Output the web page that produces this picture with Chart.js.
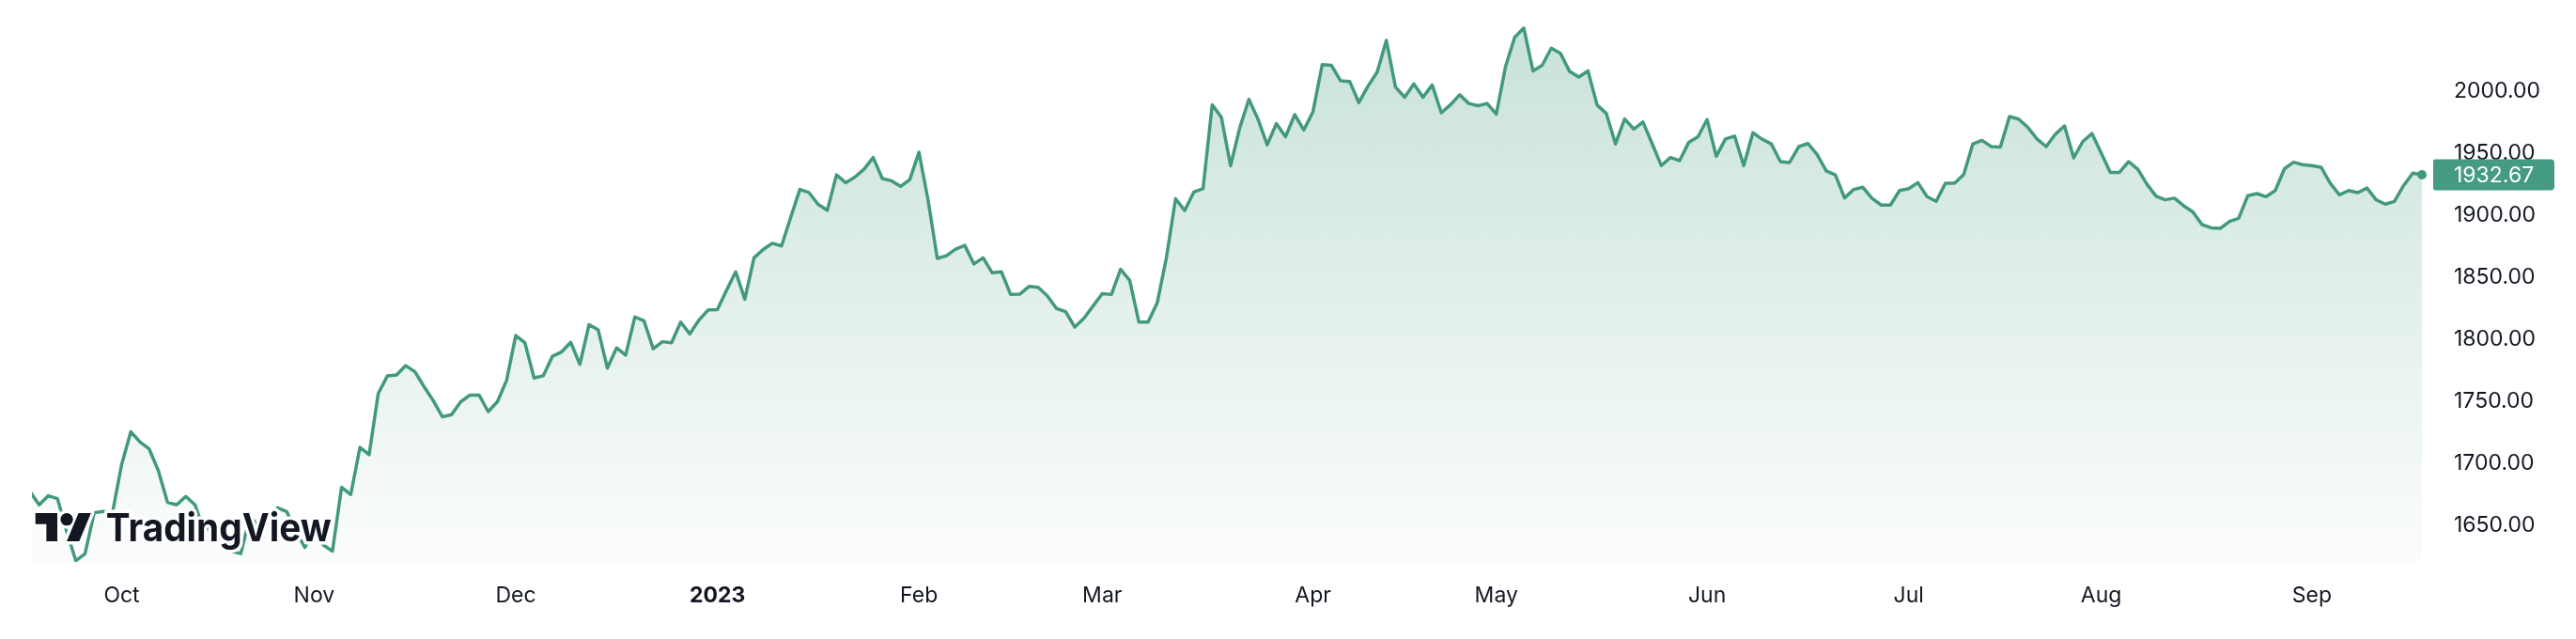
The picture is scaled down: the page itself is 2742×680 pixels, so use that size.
<!DOCTYPE html>
<html><head><meta charset="utf-8">
<script src="https://cdn.jsdelivr.net/npm/chart.js@4.4.0/dist/chart.umd.min.js"></script>
<style>html,body{margin:0;padding:0;background:#fff;overflow:hidden}canvas{display:block}</style>
</head><body>
<canvas id="c" width="2742" height="680"></canvas>
<script>
// first trading day of the series (XAU/USD daily closes, weekdays)
const startDate = '2022-09-19';
const prices = [
 1677, 1666.4, 1673.7, 1671.4, 1645, 1621.3, 1626.8, 1660, 1661, 1660,
 1699, 1725.3, 1717, 1711.5, 1694, 1668.4, 1666.4, 1673.2, 1666.4, 1645,
 1650, 1652, 1629, 1627, 1657, 1649, 1652, 1664, 1661, 1645,
 1632, 1647, 1634, 1629, 1680.5, 1674.7, 1712.8, 1706.8, 1756.2, 1770.5,
 1771.2, 1778.7, 1773.7, 1761.7, 1750.4, 1737.4, 1739.1, 1749.6, 1754.9, 1754.9,
 1741.6, 1749.6, 1766.7, 1803, 1797.2, 1768.7, 1770.5, 1786.2, 1789.7, 1797.5,
 1779.7, 1811.8, 1807.5, 1776.7, 1793, 1787.2, 1818, 1814.8, 1792.3, 1798,
 1797.2, 1813.8, 1804.3, 1815.5, 1823.6, 1823.8, 1839.4, 1854.4, 1832.3, 1865.7,
 1872.4, 1877.4, 1875.2, 1898.2, 1920.8, 1918.3, 1908.8, 1904, 1932.6, 1926.3,
 1930.8, 1937.1, 1946.6, 1929.6, 1927.8, 1923.3, 1928.8, 1950.9, 1912, 1865.2,
 1867.4, 1872.7, 1875.7, 1860.7, 1865.7, 1853.6, 1854.4, 1836.1, 1836.3, 1842.6,
 1841.9, 1835.1, 1824.8, 1822.3, 1809.8, 1816.8, 1826.8, 1836.8, 1836.1, 1856.4,
 1847.4, 1813.8, 1813.8, 1829.3, 1865.7, 1913.3, 1903.8, 1918.8, 1921.6, 1989.2,
 1979, 1940, 1970.5, 1993.5, 1977.5, 1956.8, 1974, 1963.4, 1981.2, 1968.8,
 1983.7, 2021.5, 2021, 2008.5, 2008, 1990.9, 2004.2, 2015.5, 2041.1, 2003.5,
 1995.2, 2006, 1995.2, 2005.2, 1982.7, 1989.2, 1997.2, 1990.2, 1988.4, 1990.2,
 1981.7, 2019.8, 2043.6, 2051.1, 2016.5, 2021, 2034.8, 2030.6, 2016, 2011.5,
 2016.5, 1988.9, 1982.2, 1957.6, 1977.7, 1969.6, 1975.2, 1957.9, 1940.1, 1946.6,
 1944.1, 1958.9, 1963.4, 1977.2, 1947.6, 1961.6, 1963.9, 1940.1, 1966.6, 1961.4,
 1957.6, 1943.3, 1942.6, 1955.4, 1957.9, 1949.1, 1935.8, 1932.6, 1914, 1920.8,
 1922.6, 1913.6, 1908.2, 1908.2, 1920, 1921.5, 1926.3, 1915, 1911.2, 1925.8,
 1925.8, 1932.8, 1957.6, 1960.4, 1955.4, 1955.1, 1979.7, 1977.6, 1970.9, 1961.6,
 1955.4, 1965.4, 1972.1, 1946.3, 1959.6, 1965.9, 1950.3, 1934.6, 1934.6, 1943.3,
 1937.1, 1925, 1915.3, 1912.5, 1913.8, 1907.7, 1902.7, 1892.5, 1889.9, 1889.4,
 1895, 1897.5, 1915.8, 1917.5, 1915, 1920, 1937.6, 1942.8, 1940.8, 1940.1,
 1938.8, 1925.8, 1916.5, 1920, 1918.3, 1922, 1912.5, 1909, 1911.2, 1924,
 1934, 1932.67
];
const yTicks = [1650, 1700, 1750, 1800, 1850, 1900, 1950, 2000];
const monthNames = ['Jan','Feb','Mar','Apr','May','Jun','Jul','Aug','Sep','Oct','Nov','Dec'];
const brandText = 'TradingView';

// trading-day calendar (weekdays) for the categories
const dates = [];
{
  const d = new Date(startDate + 'T00:00:00Z');
  while (dates.length < prices.length) {
    const wd = d.getUTCDay();
    if (wd !== 0 && wd !== 6) dates.push(new Date(d));
    d.setUTCDate(d.getUTCDate() + 1);
  }
}
const tickIdx = [], tickLabels = [];
for (let k = 1; k < dates.length; k++) {
  if (dates[k].getUTCMonth() !== dates[k - 1].getUTCMonth()) {
    const m = dates[k].getUTCMonth();
    tickIdx.push(k);
    tickLabels.push(m === 0 ? String(dates[k].getUTCFullYear()) : monthNames[m]);
  }
}

const lineColor = '#42997f';
const textColor = '#131722';
const FONT = 'Inter';

const overlay = {
  id: 'overlay',
  afterDraw(chart) {
    const c = chart.ctx;
    const area = chart.chartArea;
    const ys = chart.scales.y;
    const last = prices[prices.length - 1];
    const py = ys.getPixelForValue(last);
    // price label
    c.save();
    c.fillStyle = '#459a83';
    c.beginPath();
    c.roundRect(area.right + 2, py - 16.5, 129, 33, [2, 4, 4, 2]);
    c.fill();
    c.fillStyle = '#ffffff';
    c.font = '400 23px ' + FONT;
    c.textAlign = 'left';
    c.textBaseline = 'middle';
    c.fillText(last.toFixed(2), ys.left + 24, py + 1);
    c.restore();

    // TradingView logo
    c.save();
    const s = 30 / 18;
    const ox = area.left + 3.7, oy = area.bottom - 22 - 22 * s;
    const P = (x, y) => [ox + x * s, oy + y * s];
    const shapes = [];
    const t = new Path2D();
    [[0,4],[14,4],[14,22],[7,22],[7,11],[0,11]].forEach((p, i) => { const q = P(p[0], p[1]); i ? t.lineTo(q[0], q[1]) : t.moveTo(q[0], q[1]); });
    t.closePath(); shapes.push(t);
    const ci = new Path2D(); const cc = P(20, 8); ci.arc(cc[0], cc[1], 4 * s, 0, Math.PI * 2); shapes.push(ci);
    const sl = new Path2D();
    [[20,22],[28,22],[35.5,4],[27.5,4]].forEach((p, i) => { const q = P(p[0], p[1]); i ? sl.lineTo(q[0], q[1]) : sl.moveTo(q[0], q[1]); });
    sl.closePath(); shapes.push(sl);
    c.lineJoin = 'round';
    c.strokeStyle = '#ffffff';
    c.lineWidth = 7;
    shapes.forEach(p => c.stroke(p));
    // wordmark
    c.font = '700 41px ' + FONT;
    c.textBaseline = 'alphabetic';
    c.textAlign = 'left';
    const w = c.measureText(brandText).width;
    const tx = area.left + 78.7, ty = area.bottom - 22;
    c.save();
    c.translate(tx, ty);
    c.scale(240 / w, 1);
    c.lineWidth = 7;
    c.strokeText(brandText, 0, 0);
    c.fillStyle = textColor;
    c.fillText(brandText, 0, 0);
    c.restore();
    c.fillStyle = textColor;
    shapes.forEach(p => c.fill(p));
    c.restore();
  }
};

const noPad = (s) => { s.paddingTop = 0; s.paddingBottom = 0; s.paddingLeft = 0; s.paddingRight = 0; };

new Chart(document.getElementById('c').getContext('2d'), {
  type: 'line',
  data: {
    datasets: [{
      data: prices.map((p, k) => ({ x: k, y: p })),
      borderColor: lineColor,
      borderWidth: 3.5,
      tension: 0,
      borderJoinStyle: 'round',
      fill: 'start',
      backgroundColor: (ctx) => {
        const a = ctx.chart.chartArea;
        if (!a) return 'rgba(0,0,0,0)';
        const g = ctx.chart.ctx.createLinearGradient(0, a.top, 0, a.bottom);
        g.addColorStop(0, 'rgba(66,153,127,0.30)');
        g.addColorStop(1, 'rgba(66,153,127,0.02)');
        return g;
      },
      pointRadius: (ctx) => ctx.dataIndex === prices.length - 1 ? 5 : 0,
      pointHoverRadius: 0,
      pointBackgroundColor: lineColor,
      pointBorderWidth: 0
    }]
  },
  options: {
    responsive: false,
    animation: false,
    devicePixelRatio: 1,
    events: [],
    layout: { padding: { left: 34, top: 0, right: 0, bottom: 0 } },
    plugins: { legend: { display: false }, tooltip: { enabled: false } },
    scales: {
      x: {
        type: 'linear', min: 0.21, max: 262.025,
        grid: { display: false, drawTicks: false }, border: { display: false },
        afterBuildTicks: (s) => { s.ticks = tickIdx.map(v => ({ value: v })); },
        afterFit: (s) => { s.height = 82; noPad(s); },
        ticks: {
          autoSkip: false, maxRotation: 0, minRotation: 0, padding: 22, color: textColor,
          font: (ctx) => ({ family: FONT, size: 23, weight: (ctx.tick && /^\d{4}$/.test(String(ctx.tick.label))) ? '700' : '400' }),
          callback: (v) => { const j = tickIdx.indexOf(v); return j >= 0 ? tickLabels[j] : ''; }
        }
      },
      y: {
        position: 'right', min: 1620.3, max: 2069.9,
        grid: { display: false, drawTicks: false }, border: { display: false },
        afterBuildTicks: (s) => { s.ticks = yTicks.map(v => ({ value: v })); },
        afterFit: (s) => { s.width = 154; noPad(s); },
        ticks: { padding: 24, color: textColor, font: { family: FONT, size: 23 }, callback: (v) => Number(v).toFixed(2) }
      }
    }
  },
  plugins: [overlay]
});
</script>
</body></html>
